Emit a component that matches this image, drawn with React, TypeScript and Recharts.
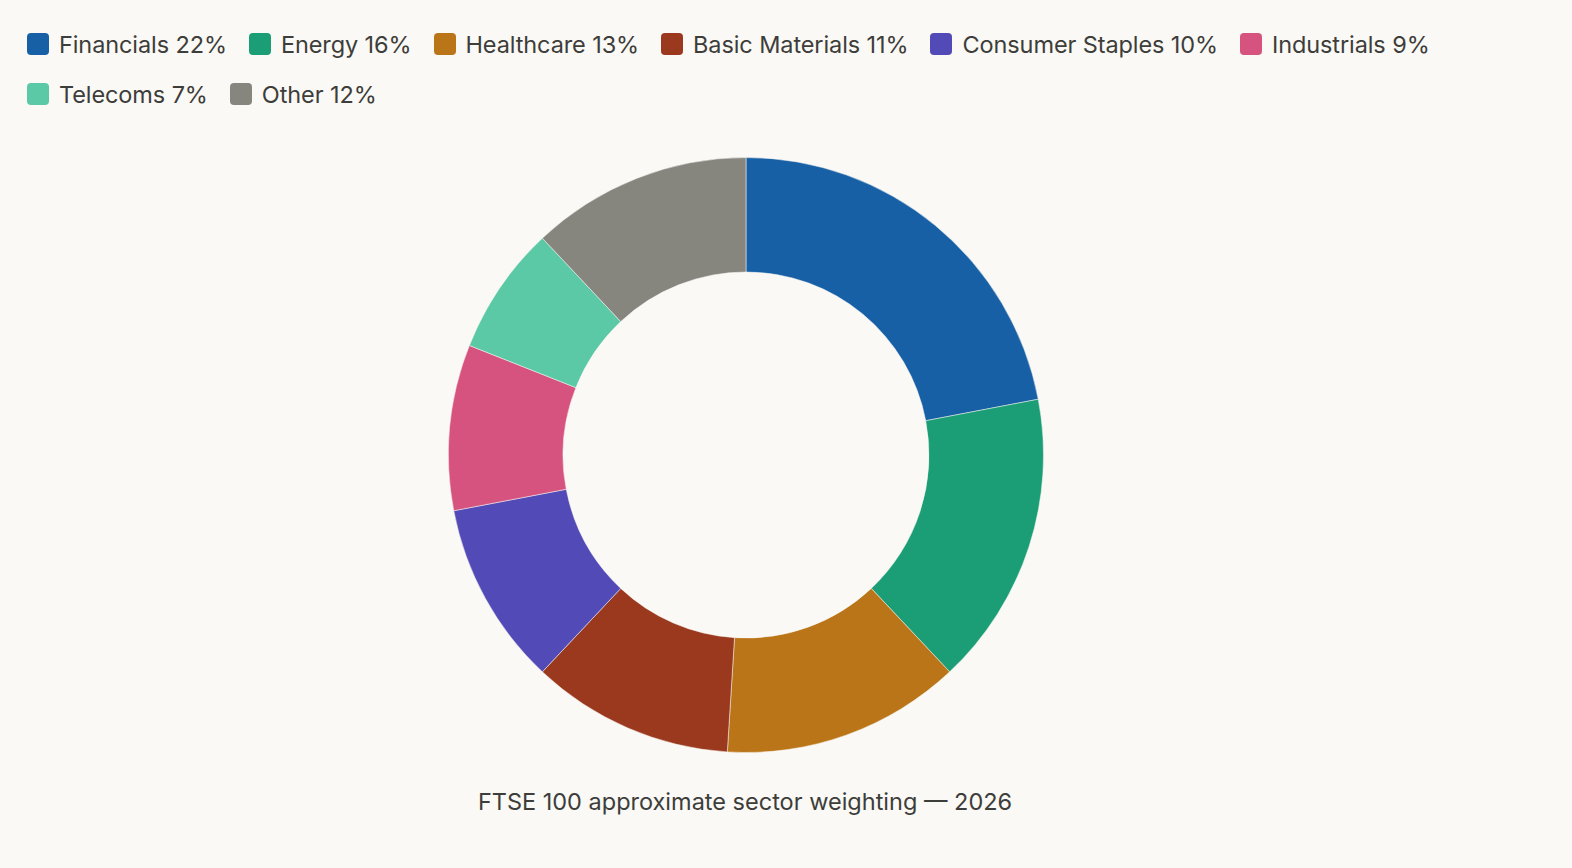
import React from "react";
import { PieChart, Pie, Cell } from "recharts";

const sectors = ["Financials", "Energy", "Healthcare", "Basic Materials", "Consumer Staples", "Industrials", "Telecoms", "Other"];
const weights = [22, 16, 13, 11, 10, 9, 7, 12];
const colors = ["#1860a6", "#1b9e75", "#b97518", "#9a391e", "#524ab7", "#d5537e", "#5cc9a6", "#87867e"];
const caption = "FTSE 100 approximate sector weighting — 2026";

const data = sectors.map((name, i) => ({ name, value: weights[i], color: colors[i] }));

const BG = "#faf9f5";
const TEXT = "#3d3d3a";
const FONT = "Inter, 'Noto Sans', sans-serif";

function LegendBlock() {
  return (
    <div
      style={{
        position: "absolute",
        left: 27,
        top: 30,
        display: "flex",
        flexWrap: "wrap",
        columnGap: 22,
        rowGap: 22,
        width: 1460,
        fontFamily: FONT,
        fontSize: 23.5,
        color: TEXT,
        letterSpacing: -0.1,
      }}
    >
      {data.map((d, i) => (
        <div key={i} style={{ display: "flex", alignItems: "center", height: 28 }}>
          <span
            style={{
              display: "inline-block",
              width: 22,
              height: 22,
              borderRadius: 4,
              background: d.color,
              marginRight: 10,
            }}
          />
          <span>{`${d.name} ${d.value}%`}</span>
        </div>
      ))}
    </div>
  );
}

export default function App() {
  return (
    <div style={{ position: "fixed", left: 0, top: 0, width: 1572, height: 868, background: BG, overflow: "hidden" }}>
      <div style={{ position: "absolute", left: 0, top: 0 }}>
        <PieChart width={1572} height={868} margin={{ top: 0, right: 0, bottom: 0, left: 0 }}>
          <Pie
            data={data}
            dataKey="value"
            nameKey="name"
            cx={746}
            cy={455}
            innerRadius={183}
            outerRadius={297.5}
            startAngle={90}
            endAngle={-270}
            stroke={BG}
            strokeWidth={0.5}
            isAnimationActive={false}
          >
            {data.map((d, i) => (
              <Cell key={i} fill={d.color} />
            ))}
          </Pie>
        </PieChart>
      </div>
      <LegendBlock />
      <div
        style={{
          position: "absolute",
          left: 0,
          width: 1490,
          top: 787,
          textAlign: "center",
          fontFamily: FONT,
          fontSize: 23.5,
          color: TEXT,
          letterSpacing: 0,
        }}
      >
        {caption}
      </div>
    </div>
  );
}
